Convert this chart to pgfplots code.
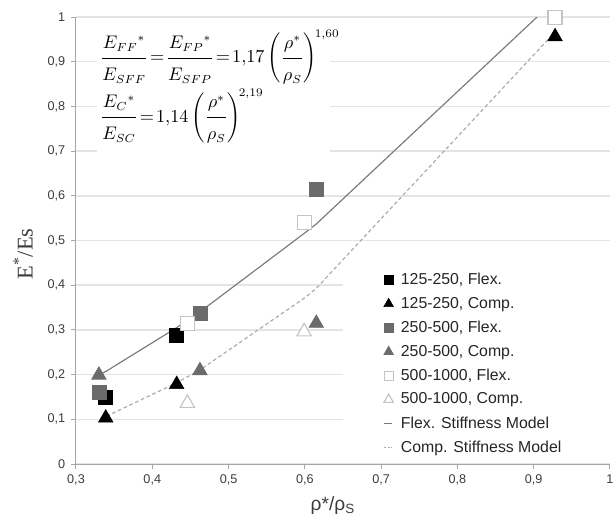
\documentclass[border=0pt]{standalone}
\usepackage{pgfplots}
\pgfplotsset{compat=1.18}
\usepackage{fontspec}
\setmainfont{Liberation Sans}
\newfontfamily\seriffont{Liberation Serif}

\definecolor{midgray}{HTML}{6B6B6B}
\definecolor{lightedge}{HTML}{C4C4C4}
\definecolor{flexline}{HTML}{7A7A7A}
\definecolor{compline}{HTML}{ABABAB}
\definecolor{gridcol}{HTML}{E4E4E4}
\definecolor{labcol}{HTML}{3C3C3C}

\pgfplotsset{
  sqlegend/.style={legend image code/.code={\draw[##1, mark size=2.7pt] plot coordinates {(0pt,0pt)}; \path (5pt,0pt);}},
  trilegend/.style={legend image code/.code={\draw[##1, mark size=3.3pt] plot coordinates {(0pt,0pt)}; \path (5pt,0pt);}},
  linelegend/.style={legend image code/.code={\draw[##1] (-2.5pt,0pt) -- (1.8pt,0pt); \path (-2.7pt,0pt) (5pt,0pt);}},
}
\newcommand\nd{\rule[-4.5pt]{0pt}{0pt}}
\newcommand\dn{\rule{0pt}{12pt}}

\begin{document}
\begin{tikzpicture}
\begin{axis}[
  scale only axis, width=320.4pt, height=268.2pt,
  xmin=0.3, xmax=1, ymin=0, ymax=1,
  xtick={0.3,0.4,0.5,0.6,0.7,0.8,0.9,1},
  ytick={0,0.1,0.2,0.3,0.4,0.5,0.6,0.7,0.8,0.9,1},
  /pgf/number format/use comma,
  /pgf/number format/assume math mode=true,
  axis lines*=left,
  axis line style={draw=gray!70, line width=0.6pt},
  tick style={draw=gray!70, line width=0.6pt},
  tick align=outside, major tick length=3pt,
  ymajorgrids, grid style={draw=gridcol, line width=0.9pt},
  ticklabel style={font=\fontsize{7.6}{9}\selectfont, text=labcol},
  xlabel={ρ*/ρ\textsubscript{S}},
  xlabel style={font=\fontsize{11.5}{12}\selectfont, text=labcol, at={(rel axis cs:0.481,-0.094)}, anchor=center},
  ylabel={\seriffont E\textsuperscript{*}/Es},
  ylabel style={font=\fontsize{13.5}{15}\selectfont, text=labcol, at={(rel axis cs:-0.099,0.47)}, anchor=center},
  legend style={at={(rel axis cs:0.566,0.443)}, anchor=north west, draw=none, fill=none,
    font=\fontsize{9.5}{11}\selectfont, text=black!85, row sep=2.1pt},
  legend cell align=left,
]
% white panels behind the formulas and the legend
\fill[white] (rel axis cs:0.039,0.985) rectangle (rel axis cs:0.476,0.655);
\fill[white] (rel axis cs:0.5,0.44) rectangle (rel axis cs:1,0.012);

% stiffness models
\addplot[forget plot, flexline, line width=0.7pt] coordinates {
 (0.33,0.199) (0.34,0.208) (0.43,0.303) (0.445,0.320) (0.463,0.341)
 (0.60,0.517) (0.615,0.537) (0.925,1.033)};
\addplot[forget plot, compline, line width=0.7pt, dash pattern=on 2.2pt off 1.6pt] coordinates {
 (0.34,0.107) (0.43,0.180) (0.445,0.194) (0.463,0.211)
 (0.60,0.372) (0.615,0.393) (0.925,0.961)};

% specimens
\addplot[only marks, mark=square*, mark size=4.2pt, mark options={fill=black, draw=black}, sqlegend]
  coordinates {(0.338,0.150) (0.431,0.287)};
\addlegendentry{125-250, Flex.}
\addplot[only marks, mark=triangle*, mark size=5pt, mark options={fill=black, draw=black}, trilegend]
  coordinates {(0.339,0.103) (0.432,0.178) (0.928,0.956)};
\addlegendentry{125-250, Comp.}
\addplot[only marks, mark=square*, mark size=4.2pt, mark options={fill=midgray, draw=midgray}, sqlegend]
  coordinates {(0.330,0.160) (0.4625,0.337) (0.615,0.615)};
\addlegendentry{250-500, Flex.}
\addplot[only marks, mark=triangle*, mark size=5pt, mark options={fill=midgray, draw=midgray}, trilegend]
  coordinates {(0.330,0.199) (0.4625,0.209) (0.615,0.315)};
\addlegendentry{250-500, Comp.}
\addplot[only marks, mark=square*, mark size=4.2pt, mark options={fill=white, draw=lightedge, line width=0.7pt}, sqlegend]
  coordinates {(0.446,0.315) (0.600,0.540) (0.928,0.998)};
\addlegendentry{500-1000, Flex.}
\addplot[only marks, mark=triangle*, mark size=5pt, mark options={fill=white, draw=lightedge, line width=0.7pt}, trilegend]
  coordinates {(0.446,0.136) (0.599,0.296)};
\addlegendentry{500-1000, Comp.}

\addlegendimage{flexline, line width=0.7pt, linelegend}
\addlegendentry{Flex. Stiffness Model}
\addlegendimage{compline, line width=0.7pt, dash pattern=on 1.2pt off 0.8pt, linelegend}
\addlegendentry{Comp. Stiffness Model}

% model formulas
\node[anchor=north west, inner sep=0pt, align=left, font=\fontsize{10.5}{12}\selectfont]
  at (rel axis cs:0.045,0.972)
  {$\displaystyle \frac{E_{FF}{}^{*}\nd}{\dn E_{SFF}} \mskip2mu{=}\mskip2mu \frac{E_{FP}{}^{*}\nd}{\dn E_{SFP}} \mskip2mu{=}\mskip2mu 1{,}17\left(\frac{\rho^{*}\nd}{\dn\rho_{S}}\right)^{\!1{,}60}$\\[2pt]
   $\displaystyle \frac{E_{C}{}^{*}\nd}{\dn E_{SC}} \mskip2mu{=}\mskip2mu 1{,}14\left(\frac{\rho^{*}\nd}{\dn\rho_{S}}\right)^{\!2{,}19}$};
\end{axis}
\pgfresetboundingbox
\path[use as bounding box] (current axis.south west) ++(-45.6pt,-30.6pt) rectangle ++(368.4pt,309pt);
\end{tikzpicture}
\end{document}
